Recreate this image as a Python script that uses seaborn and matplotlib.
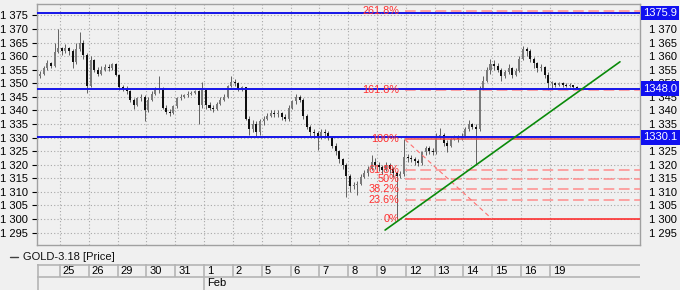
import numpy as np
import pandas as pd
import matplotlib
matplotlib.use("Agg")
import matplotlib.pyplot as plt
import seaborn as sns
from matplotlib.lines import Line2D
from matplotlib.ticker import FuncFormatter
from matplotlib.transforms import blended_transform_factory

# ---------------- data ----------------
day_labels = ["25", "26", "29", "30", "31", "1", "2", "5", "6", "7", "8", "9",
              "12", "13", "14", "15", "16", "19"]
month_label = "Feb"
month_start_day = 5          # index of "1" (Feb 1) in day_labels
bars_per_day = [6] + [8] * 18  # Jan 24 partial, then Jan 25 .. Feb 19

first_open = 1352.5
close = [
    # Jan 24
    1353.5, 1355.5, 1357.5, 1356.5, 1361.5, 1363.0,
    # Jan 25
    1362.0, 1363.0, 1362.0, 1358.0, 1362.5, 1365.0, 1360.5, 1349.0,
    # Jan 26
    1358.5, 1355.0, 1353.5, 1355.0, 1356.0, 1355.5, 1357.0, 1353.0,
    # Jan 29
    1348.5, 1348.0, 1347.0, 1344.0, 1342.0, 1344.5, 1345.0, 1340.0,
    # Jan 30
    1344.0, 1346.0, 1347.5, 1348.0, 1341.0, 1339.5, 1339.0, 1341.5,
    # Jan 31
    1344.5, 1345.0, 1345.5, 1346.0, 1346.5, 1347.0, 1342.0, 1347.5,
    # Feb 1
    1342.0, 1341.0, 1340.5, 1342.5, 1344.0, 1345.0, 1349.0, 1350.5,
    # Feb 2
    1350.0, 1348.0, 1348.5, 1337.0, 1333.0, 1335.0, 1332.0, 1336.0,
    # Feb 5
    1337.0, 1338.0, 1339.0, 1338.5, 1339.0, 1337.5, 1337.0, 1341.0,
    # Feb 6
    1343.5, 1345.0, 1344.0, 1338.0, 1334.0, 1332.0, 1331.5, 1330.5,
    # Feb 7
    1332.0, 1331.5, 1330.0, 1327.0, 1325.0, 1322.0, 1320.0, 1316.0,
    # Feb 8
    1312.0, 1312.5, 1313.0, 1315.5, 1317.0, 1318.5, 1321.0, 1320.0,
    # Feb 9
    1319.0, 1318.0, 1320.0, 1318.5, 1317.0, 1316.0, 1316.5, 1323.0,
    # Feb 12
    1322.5, 1322.0, 1321.5, 1320.5, 1324.5, 1326.0, 1325.0, 1324.5,
    # Feb 13
    1330.0, 1331.0, 1328.0, 1327.0, 1329.5, 1330.0, 1329.5, 1330.5,
    # Feb 14
    1333.0, 1335.0, 1334.0, 1333.0, 1348.0, 1351.0, 1355.0, 1357.0,
    # Feb 15
    1356.5, 1355.0, 1352.5, 1354.0, 1355.5, 1353.0, 1354.5, 1359.0,
    # Feb 16
    1362.5, 1362.0, 1359.0, 1357.5, 1355.5, 1356.0, 1353.0, 1350.0,
    # Feb 19
    1350.0, 1349.5, 1350.0, 1349.5, 1349.0, 1349.5, 1348.5, 1348.4,
]
high = [
    1354.5, 1356.5, 1358.5, 1358.0, 1365.0, 1370.0,
    1363.5, 1364.5, 1363.5, 1362.5, 1365.0, 1369.0, 1366.0, 1361.0,
    1360.0, 1359.0, 1356.0, 1356.5, 1357.0, 1357.0, 1357.5, 1357.5,
    1353.5, 1349.5, 1349.0, 1347.5, 1344.5, 1345.0, 1346.0, 1345.5,
    1345.0, 1347.0, 1348.5, 1352.5, 1348.5, 1342.0, 1340.5, 1342.0,
    1345.0, 1346.0, 1346.0, 1347.0, 1347.0, 1347.5, 1347.5, 1350.5,
    1347.5, 1343.0, 1342.0, 1343.0, 1345.0, 1346.0, 1349.5, 1352.5,
    1351.5, 1350.5, 1349.0, 1348.5, 1338.0, 1336.5, 1336.0, 1337.0,
    1338.0, 1339.0, 1340.0, 1340.0, 1340.0, 1339.5, 1338.5, 1342.0,
    1344.0, 1346.0, 1345.5, 1344.5, 1338.5, 1334.5, 1333.0, 1332.5,
    1333.0, 1333.0, 1332.5, 1330.5, 1328.0, 1325.5, 1322.5, 1320.5,
    1316.5, 1313.5, 1314.0, 1316.5, 1318.0, 1319.5, 1323.5, 1322.5,
    1321.0, 1320.0, 1321.0, 1320.5, 1319.0, 1317.5, 1317.5, 1329.3,
    1324.0, 1323.5, 1323.0, 1322.0, 1325.0, 1327.0, 1327.0, 1326.0,
    1331.5, 1333.5, 1331.5, 1329.0, 1330.5, 1331.0, 1331.0, 1331.5,
    1334.0, 1336.5, 1335.5, 1335.0, 1349.0, 1352.5, 1356.0, 1359.0,
    1358.5, 1357.5, 1355.5, 1355.0, 1357.0, 1356.0, 1355.5, 1360.0,
    1363.8, 1363.5, 1362.5, 1359.5, 1358.0, 1357.0, 1356.5, 1354.0,
    1351.0, 1350.5, 1350.5, 1350.5, 1350.0, 1350.0, 1349.5, 1349.0,
]
low = [
    1352.0, 1353.0, 1355.0, 1355.5, 1356.0, 1361.0,
    1360.5, 1361.0, 1360.5, 1355.5, 1357.0, 1362.0, 1359.0, 1346.5,
    1348.5, 1354.0, 1352.5, 1353.0, 1354.5, 1354.5, 1355.0, 1352.5,
    1347.5, 1347.0, 1346.0, 1343.0, 1340.5, 1341.5, 1343.5, 1336.0,
    1339.5, 1343.5, 1345.5, 1346.5, 1340.5, 1338.5, 1338.0, 1338.5,
    1341.0, 1344.0, 1344.5, 1345.0, 1345.5, 1346.0, 1335.0, 1341.0,
    1340.5, 1340.0, 1339.5, 1340.0, 1342.0, 1343.5, 1344.5, 1348.5,
    1349.0, 1347.0, 1347.0, 1336.5, 1331.0, 1332.0, 1330.5, 1331.0,
    1334.5, 1336.5, 1337.5, 1337.5, 1337.5, 1336.5, 1336.0, 1336.0,
    1340.5, 1342.5, 1343.0, 1337.0, 1333.0, 1330.5, 1330.0, 1325.5,
    1329.5, 1330.0, 1329.0, 1326.0, 1323.5, 1320.5, 1318.5, 1308.0,
    1310.0, 1311.0, 1309.0, 1312.5, 1315.0, 1316.0, 1318.0, 1318.5,
    1317.5, 1316.5, 1317.5, 1317.0, 1315.5, 1300.0, 1315.0, 1316.0,
    1321.0, 1321.0, 1320.0, 1319.5, 1320.0, 1323.5, 1324.0, 1323.5,
    1324.0, 1329.5, 1327.0, 1324.5, 1326.5, 1329.0, 1328.5, 1329.0,
    1330.0, 1332.5, 1333.0, 1320.0, 1332.5, 1347.5, 1350.5, 1353.5,
    1355.0, 1354.0, 1351.0, 1352.0, 1353.5, 1352.0, 1352.5, 1354.0,
    1358.5, 1360.0, 1358.0, 1355.5, 1354.0, 1354.5, 1352.0, 1347.5,
    1348.0, 1348.5, 1349.0, 1348.5, 1348.5, 1348.5, 1348.0, 1348.0,
]

blue_levels = [1375.9, 1348.0, 1330.1]
fib_low, fib_high = 1300.0, 1329.3
fib_ratios = [0.0, 0.236, 0.382, 0.5, 0.618, 1.0, 1.618, 2.618]
fib_labels = ["0%", "23.6%", "38.2%", "50%", "61.8%", "100%", "161.8%", "261.8%"]
fib_start_day, fib_diag_end_day = 11.97, 14.99
trend_day = [11.28, 19.43]
trend_price = [1295.9, 1357.9]
y_ticks = [1295, 1300, 1305, 1310, 1315, 1320, 1325, 1330, 1335, 1340,
           1345, 1350, 1355, 1360, 1365, 1370, 1375]
right_hidden_ticks = [1375, 1330]   # covered by the value boxes
legend_label = "GOLD-3.18 [Price]"

# ---------------- build frame ----------------
t = []
for d, n in enumerate(bars_per_day):
    for k in range(8 - n, 8):
        t.append(d - 1 + (k + 0.5) / 8)
opens = [first_open] + close[:-1]
df = pd.DataFrame({"t": t, "open": opens, "high": high, "low": low, "close": close})
df["high"] = df[["high", "open", "close"]].max(axis=1)
df["low"] = df[["low", "open", "close"]].min(axis=1)

# ---------------- style ----------------
BG = "#f0f0f0"
sns.set_style("white")
plt.rcParams["font.family"] = ["Liberation Sans", "DejaVu Sans"]

W, H = 680, 290
fig = plt.figure(figsize=(6.8, 2.9), dpi=100, facecolor=BG)
px0, px1, py_top, py_bot = 37, 640, 4, 245
ax = fig.add_axes([px0 / W, 1 - py_bot / H, (px1 - px0) / W, (py_bot - py_top) / H])
ax.set_facecolor(BG)

xmin, xmax = -0.798, 20.125
ylim = (1290.4, 1379.2)
ax.set_xlim(xmin, xmax)
ax.set_ylim(*ylim)

fmt = FuncFormatter(lambda v, p: f"{int(round(v)) // 1000} {int(round(v)) % 1000:03d}")
ax.set_yticks(y_ticks)
ax.yaxis.set_major_formatter(fmt)
ax.set_xticks(range(len(day_labels)))
ax.set_xticklabels([])
ax.tick_params(axis="y", which="both", left=False, right=False, labelleft=True,
               labelright=False, labelsize=8, pad=3, colors="black")
ax.tick_params(axis="x", bottom=False, labelbottom=False)
ax.grid(True, color="#a8a8a8", linestyle=(0, (1, 2)), linewidth=0.8)
for s in ax.spines.values():
    s.set_color("#a0a0a0")
    s.set_linewidth(1)

# candles
up = df["close"] >= df["open"]
ax.vlines(df["t"], df["low"], df["high"], color="#4a4a4a", linewidth=0.6, zorder=3)
body_h = (df["close"] - df["open"]).abs().clip(lower=0.3)
body_b = df[["open", "close"]].min(axis=1)
ax.bar(df["t"][up], body_h[up], bottom=body_b[up], width=0.07, color="#7a7a7a",
       edgecolor="none", zorder=4)
ax.bar(df["t"][~up], body_h[~up], bottom=body_b[~up], width=0.07, color="#101010",
       edgecolor="none", zorder=4)

# blue horizontal levels
for v in blue_levels:
    ax.axhline(v, color="#1515e8", linewidth=1.4, zorder=5)

# fibonacci levels
rng = fib_high - fib_low
for r, lab in zip(fib_ratios, fib_labels):
    lvl = fib_low + r * rng
    if r in (0.0, 1.0):
        ax.hlines(lvl, fib_start_day, xmax, color="#ff2020" if r == 0 else "#f05050",
                  linewidth=1.1, zorder=4)
    else:
        ax.hlines(lvl, fib_start_day, xmax, color="#ff8c8c", linewidth=1.1,
                  linestyle=(0, (7, 3)), zorder=4)
    ax.text(fib_start_day - 0.2, lvl, lab, color="#ff3030", fontsize=7.8,
            ha="right", va="center", zorder=6)
ax.plot([fib_start_day, fib_diag_end_day], [fib_high, fib_low], color="#ff7070",
        linewidth=0.8, linestyle=(0, (4, 3)), zorder=4)

# green trend line
trend = pd.DataFrame({"t": trend_day, "p": trend_price})
sns.lineplot(data=trend, x="t", y="p", ax=ax, color="#0a8a0a", linewidth=1.2, zorder=6)
ax.set_xlabel("")
ax.set_ylabel("")

# right axis labels + value boxes
axr = ax.twinx()
axr.set_ylim(*ylim)
axr.set_yticks([v for v in y_ticks if v not in right_hidden_ticks])
axr.yaxis.set_major_formatter(fmt)
axr.tick_params(axis="y", right=False, left=False, labelright=True, labelsize=8,
                pad=3, colors="black")
axr.grid(False)
for s in axr.spines.values():
    s.set_visible(False)
trans = blended_transform_factory(axr.transAxes, axr.transData)
for v in blue_levels:
    axr.text(1.005, v, f"{v:.1f}", transform=trans, ha="left", va="center",
             color="white", fontsize=8, clip_on=False, zorder=10,
             bbox=dict(boxstyle="square,pad=0.22", fc="#1010f0", ec="none"))

# ---------------- date band ----------------
band_top, band_mid = 264, 277
axb = fig.add_axes([px0 / W, 0, (px1 - px0) / W, (H - band_top) / H])
axb.set_xlim(xmin, xmax)
axb.set_ylim(0, H - band_top)
axb.axis("off")
ytop, ymid = H - band_top, H - band_mid
axb.hlines([ytop - 0.5, ymid], xmin, xmax, color="#b4b4b4", linewidth=1.2)
axb.vlines([xmin + 0.02], 0, ytop, color="#b4b4b4", linewidth=1.2)
for i, lab in enumerate(day_labels):
    axb.vlines(i, ymid, ytop, color="#b4b4b4", linewidth=1.2)
    axb.text(i + 0.1, (ytop + ymid) / 2, lab, fontsize=8, ha="left", va="center", color="black")
axb.vlines(month_start_day, 0, ymid, color="#b4b4b4", linewidth=1.2)
axb.text(month_start_day + 0.1, ymid / 2, month_label, fontsize=8, ha="left",
         va="center", color="black")

# legend
ly = 1 - 257 / H
fig.add_artist(Line2D([10 / W, 18 / W], [ly, ly], color="#404040", linewidth=1))
fig.text(23 / W, ly, legend_label, fontsize=8, ha="left", va="center", color="#101010")

fig.savefig("out.png", dpi=100, facecolor=BG)
